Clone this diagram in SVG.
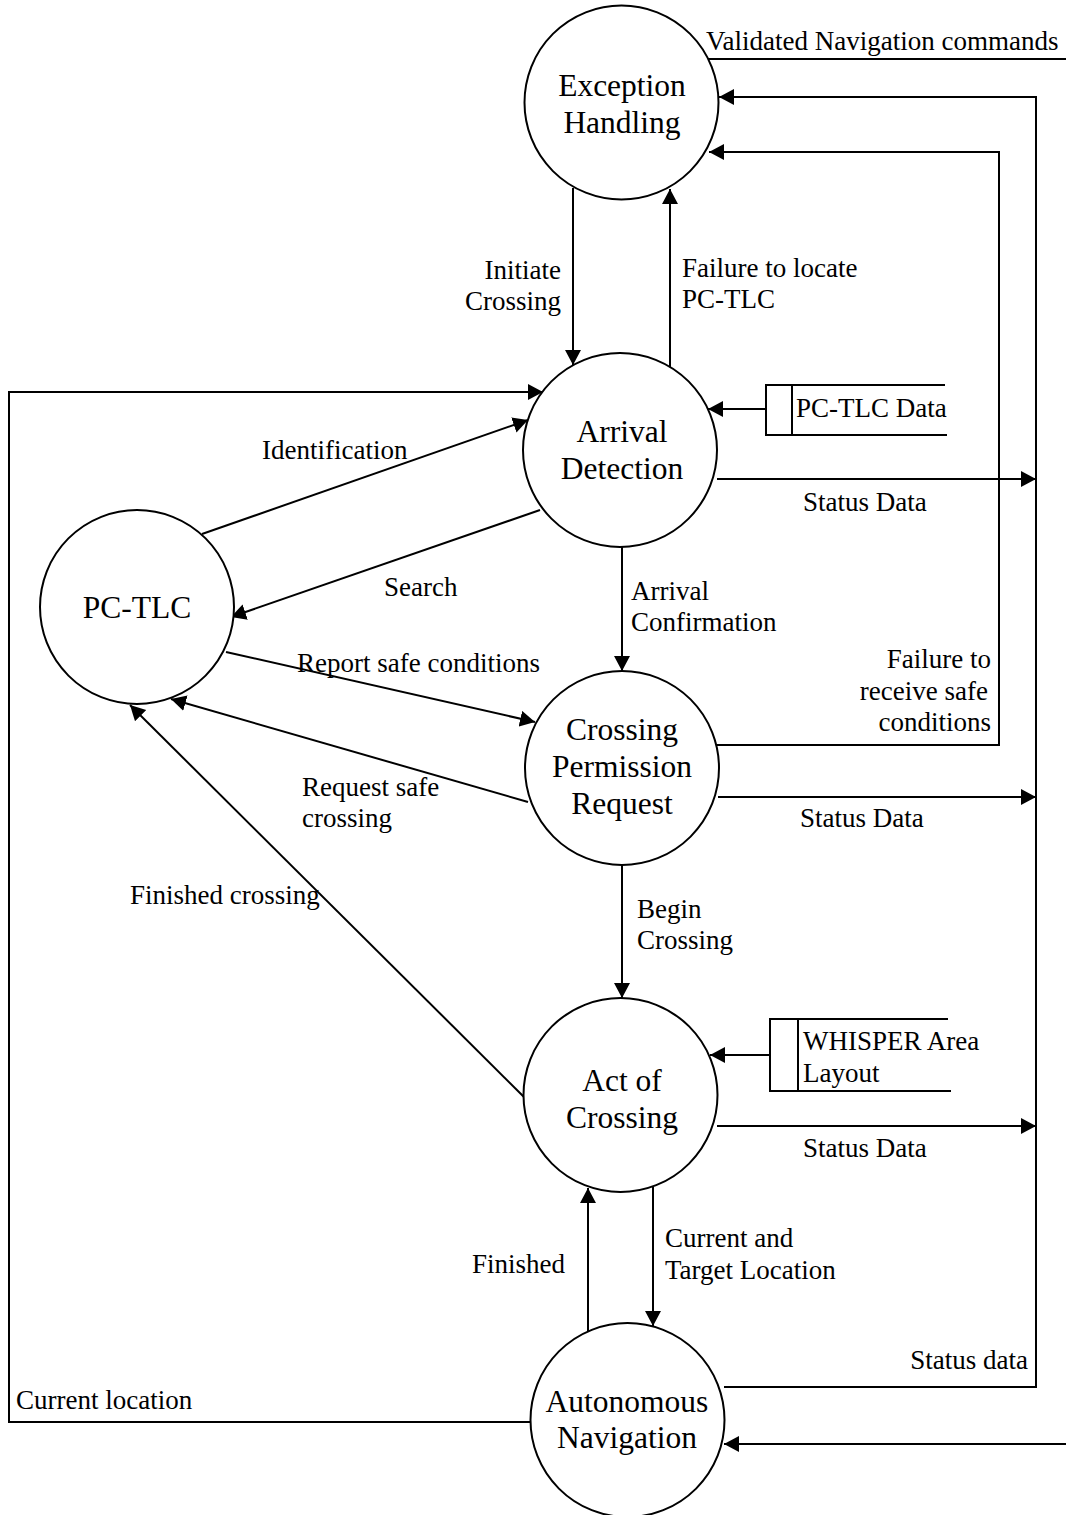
<svg xmlns="http://www.w3.org/2000/svg" width="1066" height="1515" viewBox="0 0 1066 1515">
  <style>
    .proc { fill: #ffffff; stroke: #000000; stroke-width: 2; }
    .flow { fill: none; stroke: #000000; stroke-width: 2; }
    .arrow { marker-end: url(#head); }
    .store { fill: none; stroke: #000000; stroke-width: 2; }
    .node-label { font-family: "Liberation Serif", "Times New Roman", serif; font-size: 31.5px; fill: #000000; text-anchor: middle; }
    .edge-label { font-family: "Liberation Serif", "Times New Roman", serif; font-size: 27px; fill: #000000; }
    .end { text-anchor: end; }
  </style>
  <defs>
    <marker id="head" markerUnits="userSpaceOnUse" markerWidth="17" markerHeight="17" refX="15" refY="8" orient="auto">
      <path d="M0,0 L15,8 L0,16 Z" fill="#000000"/>
    </marker>
  </defs>
  <rect width="1066" height="1515" fill="#ffffff"/>

  <!-- data flows -->
  <g id="connectors">
    <path class="flow" d="M708,59 H1066"/>
    <path class="flow arrow" d="M724,1387 H1036 V97 H719"/>
    <path class="flow arrow" d="M716,745 H999 V152 H709"/>
    <path class="flow arrow" d="M717,479 H1036"/>
    <path class="flow arrow" d="M718,797 H1036"/>
    <path class="flow arrow" d="M717,1126 H1036"/>
    <path class="flow arrow" d="M1066,1444 H724"/>
    <path class="flow arrow" d="M532,1422 H9 V392 H543"/>
    <path class="flow arrow" d="M573,188 V365"/>
    <path class="flow arrow" d="M670,367 V189"/>
    <path class="flow arrow" d="M766,409 H708"/>
    <path class="flow arrow" d="M202,534 L528,420"/>
    <path class="flow arrow" d="M540,510 L231,617"/>
    <path class="flow arrow" d="M622,547 V671"/>
    <path class="flow arrow" d="M226,652 L535,722"/>
    <path class="flow arrow" d="M528,802 L171,699"/>
    <path class="flow arrow" d="M524,1097 L130,705"/>
    <path class="flow arrow" d="M622,865 V998"/>
    <path class="flow arrow" d="M770,1055 H710"/>
    <path class="flow arrow" d="M588,1332 V1188"/>
    <path class="flow arrow" d="M653,1187 V1326"/>

    <text class="edge-label" x="706" y="50">Validated Navigation commands</text>
    <text class="edge-label end" x="561" y="279">Initiate</text>
    <text class="edge-label end" x="561" y="310">Crossing</text>
    <text class="edge-label" x="682" y="277">Failure to locate</text>
    <text class="edge-label" x="682" y="308">PC-TLC</text>
    <text class="edge-label" x="262" y="459">Identification</text>
    <text class="edge-label" x="803" y="511">Status Data</text>
    <text class="edge-label" x="384" y="596">Search</text>
    <text class="edge-label" x="631" y="600">Arrival</text>
    <text class="edge-label" x="631" y="631">Confirmation</text>
    <text class="edge-label" x="297" y="672">Report safe conditions</text>
    <text class="edge-label end" x="991" y="668">Failure to</text>
    <text class="edge-label end" x="988" y="700">receive safe</text>
    <text class="edge-label end" x="991" y="731">conditions</text>
    <text class="edge-label" x="302" y="796">Request safe</text>
    <text class="edge-label" x="302" y="827">crossing</text>
    <text class="edge-label" x="800" y="827">Status Data</text>
    <text class="edge-label" x="130" y="904">Finished crossing</text>
    <text class="edge-label" x="637" y="918">Begin</text>
    <text class="edge-label" x="637" y="949">Crossing</text>
    <text class="edge-label" x="803" y="1157">Status Data</text>
    <text class="edge-label" x="665" y="1247">Current and</text>
    <text class="edge-label" x="665" y="1279">Target Location</text>
    <text class="edge-label" x="472" y="1273">Finished</text>
    <text class="edge-label end" x="1028" y="1369">Status data</text>
    <text class="edge-label" x="16" y="1409">Current location</text>
  </g>

  <!-- processes -->
  <g id="exception-handling">
    <circle class="proc" cx="621.5" cy="102.5" r="97"/>
    <text class="node-label" x="622" y="96">Exception</text>
    <text class="node-label" x="622" y="133">Handling</text>
  </g>
  <g id="arrival-detection">
    <circle class="proc" cx="620" cy="450" r="97"/>
    <text class="node-label" x="622" y="442">Arrival</text>
    <text class="node-label" x="622" y="479">Detection</text>
  </g>
  <g id="pc-tlc">
    <circle class="proc" cx="137" cy="607" r="97"/>
    <text class="node-label" x="137" y="618">PC-TLC</text>
  </g>
  <g id="crossing-permission-request">
    <circle class="proc" cx="622" cy="768" r="97"/>
    <text class="node-label" x="622" y="740">Crossing</text>
    <text class="node-label" x="622" y="777">Permission</text>
    <text class="node-label" x="622" y="814">Request</text>
  </g>
  <g id="act-of-crossing">
    <circle class="proc" cx="620.5" cy="1095" r="97"/>
    <text class="node-label" x="622" y="1091">Act of</text>
    <text class="node-label" x="622" y="1128">Crossing</text>
  </g>
  <g id="autonomous-navigation">
    <circle class="proc" cx="627.5" cy="1420" r="97"/>
    <text class="node-label" x="627" y="1412">Autonomous</text>
    <text class="node-label" x="627" y="1448">Navigation</text>
  </g>

  <!-- data stores -->
  <g id="pc-tlc-data">
    <path class="store" d="M945,385 H766 V435 H947 M792,385 V435"/>
    <text class="edge-label" x="796" y="417">PC-TLC Data</text>
  </g>
  <g id="whisper-area-layout">
    <path class="store" d="M948,1019 H770 V1091 H951 M798,1019 V1091"/>
    <text class="edge-label" x="803" y="1050">WHISPER Area</text>
    <text class="edge-label" x="803" y="1082">Layout</text>
  </g>
</svg>
